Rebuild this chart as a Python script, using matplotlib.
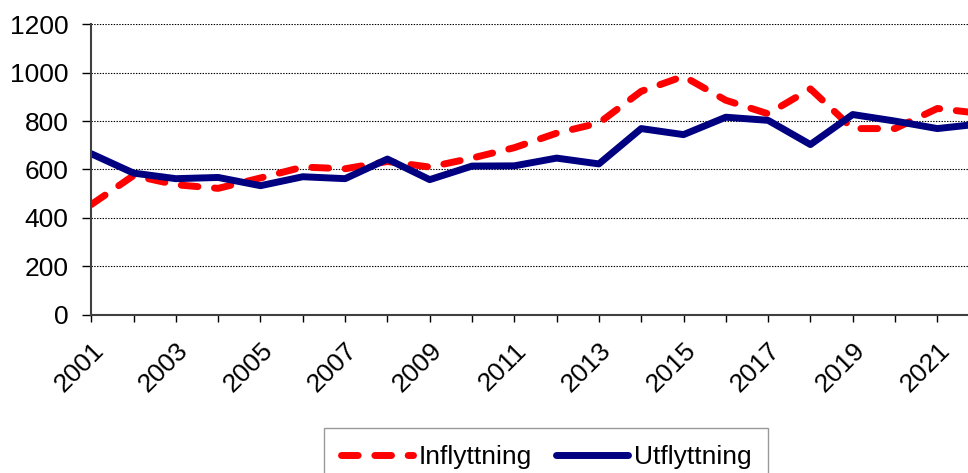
import numpy as np
import matplotlib
matplotlib.use("Agg")
import matplotlib.pyplot as plt

plt.rcParams['font.family'] = ['Liberation Sans', 'DejaVu Sans']
plt.rcParams['lines.scale_dashes'] = False

# values
years = list(range(2001, 2023))
inflyttning = [455, 575, 537, 522, 565, 610, 603, 633, 610, 647, 690,
               750, 792, 923, 985, 886, 830, 933, 769, 769, 852, 832]
utflyttning = [665, 585, 562, 567, 533, 570, 562, 643, 558, 614, 615,
               647, 623, 769, 744, 816, 803, 703, 827, 800, 769, 788]

fig = plt.figure(figsize=(9.68, 4.73), dpi=100)
ax = fig.add_axes([0.0943, 0.3347, 0.9177, 0.614])

ax.plot(years, inflyttning, color="#FF0000", lw=5, dashes=(12, 12),
        dash_capstyle="round", solid_capstyle="round", label="Inflyttning")
ax.plot(years, utflyttning, color="#000080", lw=5, solid_capstyle="round",
        label="Utflyttning")

ax.set_xlim(2001, 2022)
ax.set_ylim(0, 1200)
ax.set_yticks(range(0, 1201, 200))
ax.set_xticks(years)
ax.set_xticklabels([str(y) if (y - 2001) % 2 == 0 else "" for y in years],
                   rotation=45, ha="right", va="top", rotation_mode="anchor")

for v in range(200, 1201, 200):
    ax.axhline(v, color="black", lw=0.8, ls=(0, (1, 1)), zorder=0)

for s in ["top", "right"]:
    ax.spines[s].set_visible(False)
ax.spines["left"].set_color("#404040")
ax.spines["left"].set_linewidth(1.5)
ax.spines["bottom"].set_color("#404040")
ax.spines["bottom"].set_linewidth(1.5)

ax.tick_params(axis="y", labelsize=19, length=6.5, width=1, pad=10)
ax.tick_params(axis="x", labelsize=19, length=5, width=1, pad=12)

leg = fig.legend(loc="upper center", bbox_to_anchor=(546 / 968, 1 - 428 / 473),
                 ncol=2, fontsize=19, frameon=True, fancybox=False,
                 handlelength=2.75, handletextpad=0.2, columnspacing=0.9,
                 borderpad=0.65, borderaxespad=0)
leg.get_frame().set_edgecolor("#808080")
leg.get_frame().set_linewidth(1)

fig.savefig("out.png", dpi=100)
